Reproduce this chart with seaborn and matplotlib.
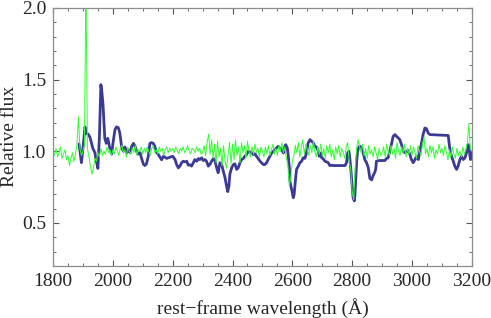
import numpy as np
import pandas as pd
import seaborn as sns
import matplotlib.pyplot as plt
from matplotlib.ticker import MultipleLocator

# green: noisy spectrum, sampled every 5 A from 1800 to 3200
green_wave = np.arange(1800, 3201, 5)
green_flux = [
    1.00, 0.97, 1.02, 0.96, 0.99, 1.03, 0.95, 0.98, 1.01, 0.94, 0.97, 0.90, 0.95, 0.99, 0.93, 0.98, 1.05, 1.24, 1.02, 0.97,
    1.00, 1.04, 2.20, 1.02, 0.96, 0.90, 0.84, 0.88, 0.95, 0.93, 0.99, 0.96, 1.02, 0.97, 1.00, 0.98, 1.03, 0.99, 1.01, 0.97,
    1.01, 0.98, 1.03, 1.00, 0.97, 1.02, 1.04, 0.99, 1.01, 0.96, 1.03, 1.00, 0.98, 1.02, 0.99, 1.04, 0.97, 1.01, 1.00, 1.03,
    0.98, 1.02, 0.99, 1.03, 1.00, 0.97, 1.02, 1.04, 0.99, 1.01, 0.98, 1.03, 1.00, 1.02, 0.97, 1.01, 1.03, 0.99, 1.02, 1.00,
    1.02, 0.99, 1.03, 1.01, 0.98, 1.02, 1.00, 1.03, 0.99, 1.01, 1.04, 1.00, 0.98, 1.02, 1.01, 0.99, 1.03, 1.00, 1.02, 0.98,
    0.99, 1.04, 0.97, 1.06, 1.12, 0.98, 1.08, 0.95, 1.05, 0.92, 1.07, 0.96, 1.02, 0.90, 1.04, 0.93, 0.88, 0.97, 1.06, 0.91,
    1.05, 0.94, 1.08, 0.97, 1.03, 0.92, 1.06, 0.99, 1.04, 0.95, 1.07, 1.00, 0.96, 1.03, 0.98, 1.05, 0.99, 1.02, 0.96, 1.03,
    1.00, 0.96, 1.03, 0.98, 1.04, 0.97, 1.01, 1.05, 0.98, 1.02, 0.97, 1.04, 1.00, 1.06, 0.99, 1.03, 0.95, 0.90, 0.76, 0.82,
    0.93, 0.97, 1.04, 0.99, 1.06, 0.96, 1.03, 1.08, 0.98, 1.05, 1.01, 0.97, 1.04, 0.99, 1.07, 1.00, 0.96, 1.03, 0.98, 1.05,
    0.97, 1.02, 0.95, 1.04, 0.99, 1.05, 0.96, 1.01, 0.94, 1.03, 0.98, 1.04, 0.96, 1.02, 0.99, 0.95, 1.03, 1.06, 0.92, 0.88,
    0.72, 0.66, 0.88, 1.02, 1.08, 1.03, 0.99, 1.05, 0.97, 1.02, 0.95, 1.04, 0.98, 1.01, 0.96, 1.03, 0.99, 0.94, 1.02, 0.97,
    0.99, 1.03, 0.96, 1.05, 1.00, 0.97, 1.04, 0.98, 1.02, 0.95, 1.06, 1.00, 0.97, 1.03, 0.99, 1.05, 0.96, 1.02, 0.98, 1.04,
    0.97, 1.03, 0.99, 0.95, 1.04, 1.00, 0.97, 1.05, 1.10, 0.98, 1.02, 0.96, 1.04, 0.99, 1.03, 0.95, 1.01, 0.98, 1.05, 0.99,
    1.02, 0.97, 1.04, 0.99, 0.94, 1.01, 0.96, 1.03, 0.98, 0.95, 1.02, 0.97, 1.00, 0.96, 1.03, 0.98, 1.01, 1.06, 1.19, 1.02,
    1.00,
]

# blue: smoothed spectrum
blue_wave = [
    1887, 1895, 1900, 1907, 1910, 1917, 1923, 1927, 1933, 1940, 1943, 1950, 1955, 1960, 1963, 1967, 1973, 1978, 1983, 1990,
    1996, 2000, 2007, 2012, 2018, 2023, 2030, 2036, 2040, 2047, 2052, 2058, 2063, 2069, 2074, 2080, 2085, 2091, 2096, 2102,
    2107, 2112, 2118, 2124, 2129, 2135, 2140, 2146, 2151, 2157, 2163, 2169, 2180, 2191, 2200, 2208, 2213, 2219, 2224, 2230,
    2235, 2241, 2247, 2252, 2258, 2263, 2269, 2274, 2280, 2286, 2291, 2297, 2302, 2308, 2313, 2319, 2325, 2330, 2336, 2341,
    2347, 2352, 2358, 2364, 2369, 2375, 2380, 2384, 2388, 2391, 2397, 2403, 2408, 2414, 2419, 2425, 2430, 2436, 2441, 2447,
    2453, 2458, 2464, 2469, 2475, 2480, 2486, 2492, 2497, 2503, 2508, 2514, 2519, 2525, 2531, 2536, 2542, 2547, 2553, 2558,
    2564, 2570, 2575, 2578, 2583, 2586, 2590, 2592, 2595, 2600, 2603, 2606, 2611, 2614, 2620, 2625, 2631, 2636, 2642, 2647,
    2653, 2659, 2664, 2670, 2675, 2681, 2687, 2690, 2694, 2698, 2701, 2705, 2709, 2714, 2720, 2725, 2731, 2737, 2776, 2781,
    2785, 2789, 2792, 2796, 2800, 2803, 2807, 2809, 2811, 2815, 2818, 2822, 2826, 2831, 2837, 2842, 2848, 2854, 2859, 2865,
    2870, 2876, 2879, 2881, 2887, 2898, 2909, 2915, 2920, 2926, 2932, 2937, 2943, 2948, 2954, 2959, 2965, 2970, 2976, 2982,
    2987, 2993, 2998, 3004, 3010, 3015, 3021, 3026, 3032, 3037, 3043, 3048, 3054, 3060, 3121, 3126, 3132, 3138, 3143, 3149,
    3154, 3160, 3165, 3171, 3177, 3182, 3188, 3191, 3193, 3196, 3199,
]
blue_flux = [
    1.05, 0.92, 1.02, 1.17, 1.125, 1.12, 1.10, 1.07, 1.02, 0.99, 0.95, 0.88, 1.10, 1.465, 1.42, 1.33, 1.09, 1.055, 1.09, 1.02,
    0.98, 1.05, 1.15, 1.17, 1.165, 1.13, 1.02, 1.00, 1.03, 0.99, 1.01, 0.99, 1.035, 1.055, 1.035, 0.995, 0.98, 0.99, 0.95, 0.91,
    0.90, 0.91, 0.96, 1.055, 1.06, 1.055, 1.035, 0.99, 0.98, 0.96, 0.94, 0.965, 0.95, 0.958, 0.965, 0.942, 0.907, 0.884, 0.896, 0.92,
    0.93, 0.926, 0.93, 0.903, 0.905, 0.896, 0.92, 0.942, 0.93, 0.949, 0.942, 0.954, 0.935, 0.942, 0.93, 0.896, 0.91, 0.93, 0.949, 0.935,
    0.884, 0.85, 0.92, 0.907, 0.861, 0.815, 0.757, 0.718, 0.757, 0.838, 0.884, 0.907, 0.912, 0.873, 0.884, 0.92, 0.942, 0.949, 0.965, 0.977,
    1.00, 0.995, 0.99, 0.977, 0.982, 0.965, 0.949, 0.93, 0.92, 0.907, 0.907, 0.92, 0.942, 0.965, 0.988, 1.00, 1.011, 1.023, 1.035, 1.023,
    1.011, 0.988, 1.035, 1.046, 1.023, 0.977, 0.884, 0.792, 0.757, 0.711, 0.676, 0.70, 0.815, 0.873, 0.896, 0.92, 0.93, 0.954, 0.95, 0.988,
    1.058, 1.081, 1.07, 1.058, 1.035, 1.028, 1.00, 0.965, 0.988, 0.954, 0.95, 0.942, 0.93, 0.926, 0.92, 0.90, 0.902, 0.90, 0.90, 0.92,
    0.988, 1.00, 0.954, 0.861, 0.757, 0.676, 0.653, 0.688, 0.768, 0.93, 1.00, 1.028, 1.035, 1.023, 0.988, 0.942, 0.92, 0.884, 0.81, 0.80,
    0.83, 0.855, 0.88, 0.93, 0.935, 0.935, 0.935, 0.95, 0.954, 1.00, 1.058, 1.104, 1.116, 1.104, 1.093, 1.081, 1.046, 1.00, 0.99, 1.00,
    1.005, 0.977, 0.942, 0.92, 0.942, 0.965, 0.942, 1.00, 1.058, 1.116, 1.162, 1.158, 1.127, 1.116, 1.11, 1.023, 0.965, 0.93, 0.896, 0.873,
    0.896, 0.942, 0.965, 0.942, 0.954, 0.988, 1.046, 1.012, 0.977, 0.942, 0.988,
]

green = pd.DataFrame({'wave': green_wave, 'flux': green_flux})
blue = pd.DataFrame({'wave': blue_wave, 'flux': blue_flux})

sns.set_style('ticks')
plt.rcParams['font.family'] = ['Liberation Serif', 'DejaVu Serif']

fig = plt.figure(figsize=(4.91, 3.18), dpi=100)
ax = fig.add_axes([0.108, 0.164, 0.853, 0.811])

sns.lineplot(data=blue, x='wave', y='flux', ax=ax, color='#3b3b96', linewidth=2.0, estimator=None)
sns.lineplot(data=green, x='wave', y='flux', ax=ax, color='#33ff33', linewidth=0.7, estimator=None)

ax.set_xlim(1800, 3200)
ax.set_ylim(0.2, 2.0)
ax.xaxis.set_major_locator(MultipleLocator(200))
ax.xaxis.set_minor_locator(MultipleLocator(50))
ax.yaxis.set_major_locator(MultipleLocator(0.5))
ax.yaxis.set_minor_locator(MultipleLocator(0.1))
ax.yaxis.set_major_formatter(plt.FuncFormatter(lambda v, p: f'{v:.1f}'))

for s in ax.spines.values():
    s.set_visible(True)
    s.set_color('#8c8c8c')
    s.set_linewidth(0.9)
ax.tick_params(which='both', direction='in', top=True, right=True, color='#555555', labelsize=14, pad=5)
ax.tick_params(which='major', length=4, width=0.8)
ax.tick_params(which='minor', length=2.5, width=0.6)

ax.set_xlabel('rest\u2212frame wavelength (Å)', fontsize=14, labelpad=6)
ax.set_ylabel('Relative flux', fontsize=14)
ax.yaxis.set_label_coords(-0.084, 0.5)

fig.savefig('out.png', dpi=100)
